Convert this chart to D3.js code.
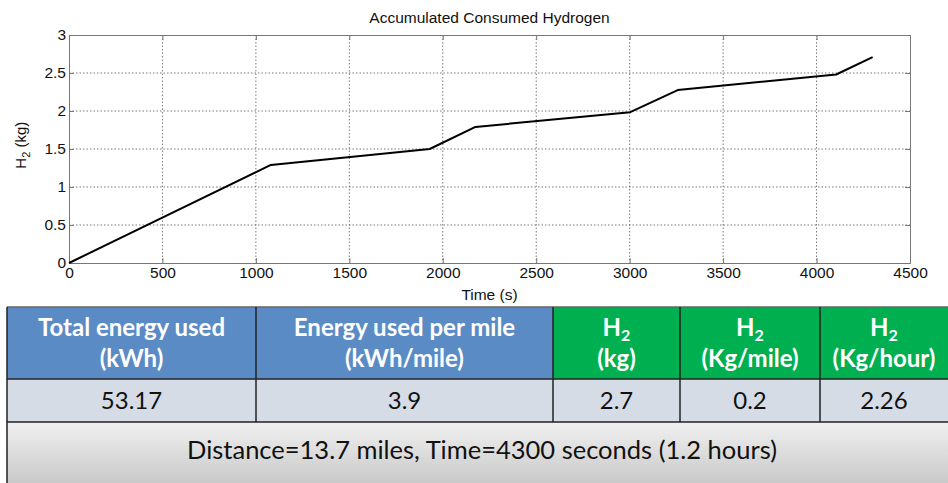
<!DOCTYPE html>
<html>
<head>
<meta charset="utf-8">
<script src="https://cdn.jsdelivr.net/npm/d3@7"></script>
<style>
  body { margin: 0; background: #fff; }
  svg { display: block; }
</style>
</head>
<body>
<div id="chart"></div>
<script>
// accumulated hydrogen
const timeS = [0, 1080, 1930, 2175, 3003, 3257, 4105, 4300]
const h2Kg = [0, 1.29, 1.50, 1.79, 1.985, 2.275, 2.48, 2.71]
const xTicks = [0, 500, 1000, 1500, 2000, 2500, 3000, 3500, 4000, 4500]
const yTicks = [0, 0.5, 1, 1.5, 2, 2.5, 3]

// summary table
const headTop = ["Total energy used", "Energy used per mile", "H", "H", "H"]
const headSub = ["", "", "2", "2", "2"]
const headBottom = ["(kWh)", "(kWh/mile)", "(kg)", "(Kg/mile)", "(Kg/hour)"]
const cellValues = ["53.17", "3.9", "2.7", "0.2", "2.26"]
const headColors = ["#5b8bc5", "#5b8bc5", "#00b050", "#00b050", "#00b050"]
const footerText = "Distance=13.7 miles, Time=4300 seconds (1.2 hours)"

const width = 948
const height = 483
const margin = [35, 38, 220, 69] // top right bottom left
const plotW = width - margin[1] - margin[3]
const plotH = height - margin[0] - margin[2]

const svg = d3
  .select("#chart")
  .append("svg")
  .attr("width", width)
  .attr("height", height)
  .attr("viewBox", [0, 0, width, height])

const x = d3.scaleLinear().domain([0, 4500]).range([margin[3], margin[3] + plotW])
const y = d3.scaleLinear().domain([0, 3]).range([margin[0] + plotH, margin[0]])

const chartFont = "'Liberation Sans', Arial, sans-serif"

// grid
const grid = svg.append("g").attr("stroke", "#555").attr("stroke-width", 0.8).attr("stroke-dasharray", "1.5,2")
grid
  .selectAll(".gx")
  .data(xTicks.slice(1, -1))
  .join("line")
  .attr("x1", d => x(d))
  .attr("x2", d => x(d))
  .attr("y1", y(3))
  .attr("y2", y(0))
grid
  .selectAll(".gy")
  .data(yTicks.slice(1, -1))
  .join("line")
  .attr("x1", x(0))
  .attr("x2", x(4500))
  .attr("y1", d => y(d))
  .attr("y2", d => y(d))

// axes
const xAxis = d3.axisBottom(x).tickValues(xTicks).tickFormat(d3.format("d")).tickSize(-5).tickSizeOuter(0).tickPadding(3)
const yAxis = d3.axisLeft(y).tickValues(yTicks).tickFormat(d3.format("~g")).tickSize(-5).tickSizeOuter(0).tickPadding(3)

const gx = svg.append("g").attr("transform", `translate(0,${y(0)})`).call(xAxis)
const gy = svg.append("g").attr("transform", `translate(${x(0)},0)`).call(yAxis)
const gxTop = svg.append("g").attr("transform", `translate(0,${y(3)})`).call(d3.axisTop(x).tickValues(xTicks).tickSize(-5).tickFormat(""))
const gyRight = svg.append("g").attr("transform", `translate(${x(4500)},0)`).call(d3.axisRight(y).tickValues(yTicks).tickSize(-5).tickFormat(""))

;[gx, gy, gxTop, gyRight].forEach(g => {
  g.selectAll("path, line").attr("stroke", "#777").attr("stroke-width", 1)
  g.selectAll("text").attr("fill", "#111").style("font", `15.5px ${chartFont}`)
})
gx.selectAll("text").attr("dy", "0.8em")

// line
const line = d3
  .line()
  .x(i => x(timeS[i]))
  .y(i => y(h2Kg[i]))
svg
  .append("path")
  .attr("fill", "none")
  .attr("stroke", "#000")
  .attr("stroke-width", 2)
  .attr("stroke-linejoin", "round")
  .attr("d", line(d3.range(timeS.length)))

// titles
svg
  .append("text")
  .attr("x", x(2250))
  .attr("y", 23)
  .attr("text-anchor", "middle")
  .style("font", `15.5px ${chartFont}`)
  .attr("fill", "#111")
  .text("Accumulated Consumed Hydrogen")
svg
  .append("text")
  .attr("x", x(2250))
  .attr("y", 300)
  .attr("text-anchor", "middle")
  .style("font", `15.5px ${chartFont}`)
  .attr("fill", "#111")
  .text("Time (s)")
const yl = svg
  .append("text")
  .attr("transform", `translate(26,${y(1.55)}) rotate(-90)`)
  .attr("text-anchor", "middle")
  .style("font", `15px ${chartFont}`)
  .attr("fill", "#111")
yl.append("tspan").text("H")
yl.append("tspan").attr("dy", 4).style("font-size", "11px").text("2")
yl.append("tspan").attr("dy", -4).text(" (kg)")

// table
const colEdges = [7, 256, 553, 680, 820, 962]
const rowTop = 307
const headH = 72
const valH = 43
const tableFont = "Lato, 'Open Sans', sans-serif"
const table = svg.append("g")

const cols = d3.range(cellValues.length)
table
  .selectAll(".head")
  .data(cols)
  .join("rect")
  .attr("x", i => colEdges[i])
  .attr("y", rowTop)
  .attr("width", i => colEdges[i + 1] - colEdges[i])
  .attr("height", headH)
  .attr("fill", i => headColors[i])
table
  .selectAll(".val")
  .data(cols)
  .join("rect")
  .attr("x", i => colEdges[i])
  .attr("y", rowTop + headH)
  .attr("width", i => colEdges[i + 1] - colEdges[i])
  .attr("height", valH)
  .attr("fill", "#d6dce6")

const defs = svg.append("defs")
const grad = defs.append("linearGradient").attr("id", "foot").attr("x1", 0).attr("y1", 0).attr("x2", 0).attr("y2", 1)
grad.append("stop").attr("offset", 0).attr("stop-color", "#f0f0f0")
grad.append("stop").attr("offset", 1).attr("stop-color", "#c6c6c6")
const footTop = rowTop + headH + valH
table
  .append("rect")
  .attr("x", colEdges[0])
  .attr("y", footTop)
  .attr("width", width)
  .attr("height", height - footTop + 5)
  .attr("fill", "url(#foot)")
  .attr("stroke", "#222")
  .attr("stroke-width", 1.5)

// borders
table
  .append("line")
  .attr("x1", colEdges[0])
  .attr("x2", width)
  .attr("y1", rowTop)
  .attr("y2", rowTop)
  .attr("stroke", "#666")
  .attr("stroke-width", 1.5)
table
  .append("line")
  .attr("x1", colEdges[0])
  .attr("x2", width)
  .attr("y1", rowTop + headH)
  .attr("y2", rowTop + headH)
  .attr("stroke", "#222")
  .attr("stroke-width", 1.5)
table
  .selectAll(".vline")
  .data(colEdges.slice(0, -1))
  .join("line")
  .attr("x1", d => d)
  .attr("x2", d => d)
  .attr("y1", rowTop)
  .attr("y2", footTop)
  .attr("stroke", "#222")
  .attr("stroke-width", 1.5)

// header text
const cx = i => (colEdges[i] + Math.min(colEdges[i + 1], width)) / 2
const headTopText = table
  .selectAll(".htop")
  .data(cols)
  .join("text")
  .attr("x", cx)
  .attr("y", rowTop + 29)
  .attr("text-anchor", "middle")
  .attr("fill", "#fff")
  .style("font", `bold 24px ${tableFont}`)
headTopText.append("tspan").text(i => headTop[i])
headTopText
  .append("tspan")
  .attr("dy", 5)
  .style("font-size", "16px")
  .text(i => headSub[i])
table
  .selectAll(".hbot")
  .data(cols)
  .join("text")
  .attr("x", cx)
  .attr("y", rowTop + 60)
  .attr("text-anchor", "middle")
  .attr("fill", "#fff")
  .style("font", `bold 24px ${tableFont}`)
  .text(i => headBottom[i])
table
  .selectAll(".vtext")
  .data(cols)
  .join("text")
  .attr("x", cx)
  .attr("y", rowTop + headH + 30)
  .attr("text-anchor", "middle")
  .attr("fill", "#111")
  .style("font", `24px ${tableFont}`)
  .text(i => cellValues[i])
table
  .append("text")
  .attr("x", 482)
  .attr("y", 459)
  .attr("text-anchor", "middle")
  .attr("fill", "#111")
  .style("font", `25.5px ${tableFont}`)
  .text(footerText)
</script>
</body>
</html>
